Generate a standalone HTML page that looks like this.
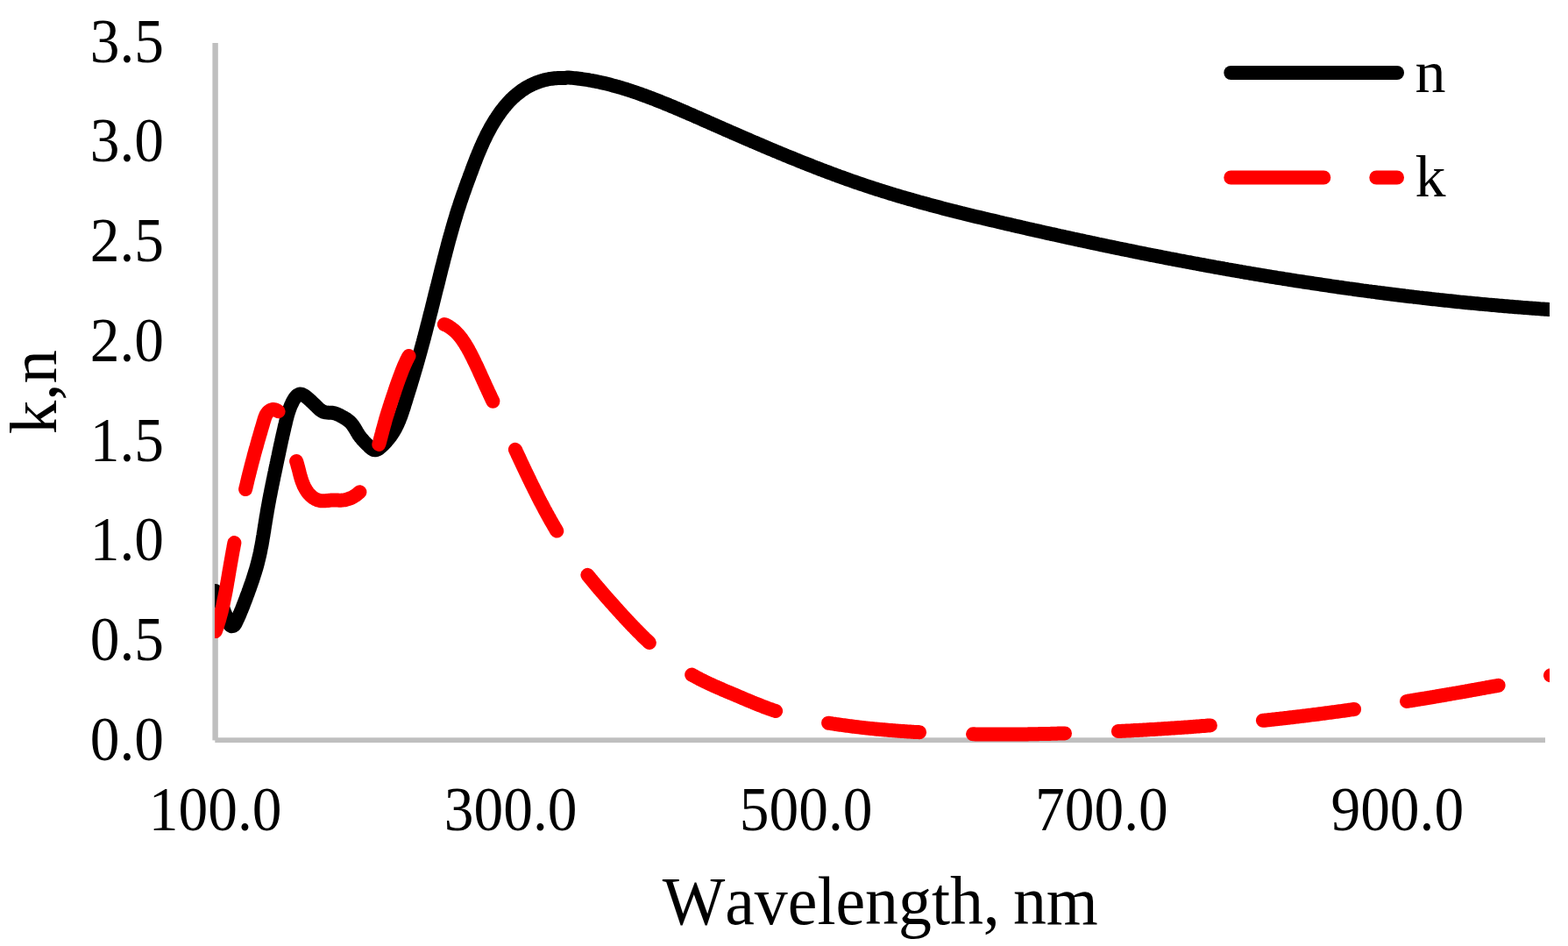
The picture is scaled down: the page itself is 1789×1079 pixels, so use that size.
<!DOCTYPE html>
<html><head><meta charset="utf-8"><title>k,n vs Wavelength</title>
<style>
html,body{margin:0;padding:0;background:#fff;width:1789px;height:1079px;overflow:hidden}
svg{position:absolute;left:0;top:0;display:block}
text{font-family:"Liberation Serif",serif;fill:#000;font-kerning:none}
</style></head><body>
<svg width="1789" height="1079" viewBox="0 0 1789 1079">
<defs><clipPath id="pa"><rect x="245" y="0" width="1523" height="1079"/></clipPath></defs>
<rect x="0" y="0" width="1789" height="1079" fill="#fff"/>
<!-- axes -->
<rect x="242.4" y="49" width="6.4" height="795.4" fill="#bfbfbf"/>
<rect x="245.3" y="841.3" width="1517.7" height="5.8" fill="#bfbfbf"/>
<!-- y tick labels -->
<g font-size="71" text-anchor="end">
<text transform="translate(187,70.5) scale(0.95,1)">3.5</text>
<text transform="translate(187,184.26) scale(0.95,1)">3.0</text>
<text transform="translate(187,298.02) scale(0.95,1)">2.5</text>
<text transform="translate(187,411.78) scale(0.95,1)">2.0</text>
<text transform="translate(187,525.54) scale(0.95,1)">1.5</text>
<text transform="translate(187,639.3) scale(0.95,1)">1.0</text>
<text transform="translate(187,753.06) scale(0.95,1)">0.5</text>
<text transform="translate(187,866.82) scale(0.95,1)">0.0</text>
</g>
<!-- x tick labels -->
<g font-size="71" text-anchor="middle">
<text transform="translate(245.6,946.7) scale(0.95,1)">100.0</text>
<text transform="translate(582.6,946.7) scale(0.95,1)">300.0</text>
<text transform="translate(919.6,946.7) scale(0.95,1)">500.0</text>
<text transform="translate(1256.9,946.7) scale(0.95,1)">700.0</text>
<text transform="translate(1594.3,946.7) scale(0.95,1)">900.0</text>
</g>
<!-- axis titles -->
<text font-size="78.5" text-anchor="middle" transform="translate(1004.2,1054.1) scale(0.966,1)">Wavelength, <tspan dx="-4">nm</tspan></text>
<text font-size="77" text-anchor="middle" transform="translate(63.6,447) rotate(-90)">k,n</text>
<!-- series -->
<g clip-path="url(#pa)" fill="none" stroke-width="16" stroke-linecap="round" stroke-linejoin="round">
<path d="M246.0,674.0 L246.6,675.5 L247.3,677.1 L247.9,678.6 L248.6,680.1 L249.2,681.7 L249.9,683.2 L250.5,684.8 L251.2,686.3 L251.8,687.8 L252.5,689.4 L253.1,690.9 L253.8,692.5 L254.4,694.0 L255.1,695.5 L255.7,697.1 L256.3,698.6 L256.9,700.2 L257.6,701.7 L258.1,703.2 L258.7,704.8 L259.3,706.3 L259.9,707.9 L260.6,709.5 L261.2,710.9 L261.9,712.3 L263.0,713.6 L264.5,714.2 L266.1,713.9 L267.3,713.0 L268.3,711.7 L269.1,710.2 L269.8,708.7 L270.5,707.1 L271.3,705.6 L271.9,704.0 L272.6,702.5 L273.3,701.0 L274.0,699.4 L274.6,697.9 L275.2,696.3 L275.9,694.8 L276.5,693.2 L277.1,691.7 L277.7,690.1 L278.3,688.6 L278.9,687.0 L279.5,685.5 L280.1,683.9 L280.7,682.4 L281.2,680.8 L281.8,679.3 L282.4,677.7 L283.0,676.2 L283.5,674.6 L284.1,673.0 L284.7,671.5 L285.2,669.9 L285.8,668.3 L286.3,666.7 L286.9,665.2 L287.4,663.6 L288.0,662.0 L288.5,660.4 L289.0,658.8 L289.5,657.3 L290.0,655.7 L290.5,654.1 L291.0,652.5 L291.5,650.9 L292.0,649.3 L292.5,647.7 L292.9,646.1 L293.4,644.5 L293.8,642.8 L294.2,641.2 L294.6,639.6 L295.0,638.0 L295.4,636.4 L295.8,634.7 L296.2,633.1 L296.5,631.5 L296.9,629.8 L297.2,628.2 L297.5,626.6 L297.8,624.9 L298.2,623.3 L298.5,621.7 L298.8,620.0 L299.1,618.4 L299.4,616.7 L299.6,615.1 L299.9,613.4 L300.2,611.8 L300.5,610.1 L300.7,608.5 L301.0,606.8 L301.3,605.2 L301.5,603.5 L301.8,601.9 L302.0,600.2 L302.3,598.6 L302.6,596.9 L302.8,595.3 L303.1,593.6 L303.4,592.0 L303.6,590.3 L303.9,588.7 L304.2,587.1 L304.5,585.4 L304.7,583.8 L305.0,582.1 L305.3,580.5 L305.6,578.9 L305.9,577.2 L306.2,575.6 L306.5,573.9 L306.8,572.3 L307.1,570.7 L307.4,569.0 L307.7,567.4 L308.0,565.8 L308.4,564.1 L308.7,562.5 L309.0,560.9 L309.3,559.3 L309.6,557.6 L310.0,556.0 L310.3,554.4 L310.6,552.7 L311.0,551.1 L311.3,549.5 L311.6,547.8 L312.0,546.2 L312.3,544.6 L312.6,542.9 L313.0,541.3 L313.3,539.7 L313.7,538.0 L314.0,536.4 L314.4,534.7 L314.7,533.1 L315.0,531.5 L315.4,529.8 L315.7,528.2 L316.1,526.5 L316.4,524.9 L316.8,523.2 L317.1,521.6 L317.5,520.0 L317.8,518.3 L318.2,516.7 L318.5,515.0 L318.9,513.4 L319.2,511.7 L319.6,510.1 L319.9,508.4 L320.3,506.8 L320.6,505.2 L321.0,503.5 L321.3,501.9 L321.7,500.3 L322.1,498.6 L322.4,497.0 L322.8,495.4 L323.2,493.8 L323.5,492.2 L323.9,490.6 L324.3,489.0 L324.6,487.4 L325.0,485.8 L325.4,484.2 L325.8,482.6 L326.1,481.1 L326.5,479.5 L326.9,477.9 L327.3,476.4 L327.7,474.8 L328.1,473.3 L328.6,471.7 L329.1,470.1 L329.6,468.5 L330.2,466.9 L330.8,465.3 L331.3,463.9 L331.9,462.4 L332.6,461.0 L333.3,459.5 L334.0,458.0 L334.8,456.5 L335.7,455.1 L336.5,453.8 L337.5,452.6 L338.6,451.4 L339.9,450.4 L341.4,449.7 L342.9,449.5 L344.6,449.9 L346.0,450.5 L347.5,451.4 L348.8,452.3 L350.1,453.3 L351.3,454.3 L352.4,455.4 L353.6,456.4 L354.8,457.5 L356.0,458.6 L357.2,459.8 L358.4,460.9 L359.5,462.0 L360.7,463.2 L361.9,464.4 L363.2,465.6 L364.5,466.8 L365.8,467.8 L367.2,468.7 L368.6,469.5 L370.2,470.0 L371.8,470.4 L373.4,470.6 L375.1,470.7 L376.8,470.7 L378.5,470.8 L380.1,471.0 L381.8,471.4 L383.4,471.9 L384.9,472.5 L386.4,473.1 L388.0,473.9 L389.4,474.7 L390.9,475.5 L392.4,476.4 L393.9,477.2 L395.3,478.1 L396.6,479.1 L397.9,480.1 L399.2,481.2 L400.4,482.4 L401.4,483.6 L402.5,484.9 L403.4,486.3 L404.3,487.7 L405.2,489.1 L406.1,490.6 L406.9,492.1 L407.8,493.5 L408.6,494.9 L409.5,496.3 L410.5,497.7 L411.5,499.0 L412.5,500.2 L413.6,501.5 L414.7,502.7 L415.8,503.9 L417.0,505.1 L418.2,506.3 L419.3,507.4 L420.4,508.4 L421.5,509.5 L422.7,510.6 L424.0,511.7 L425.4,512.6 L426.8,513.1 L428.4,513.3 L430.1,512.9 L431.5,512.2 L432.9,511.2 L434.1,510.2 L435.3,509.2 L436.4,508.1 L437.5,507.0 L438.6,505.9 L439.6,504.8 L440.8,503.5 L441.9,502.2 L443.0,500.9 L444.0,499.6 L445.0,498.3 L446.0,497.0 L446.9,495.7 L447.8,494.3 L448.7,493.0 L449.5,491.6 L450.3,490.2 L451.1,488.8 L451.8,487.3 L452.6,485.9 L453.3,484.4 L454.0,482.9 L454.6,481.4 L455.3,479.9 L455.9,478.3 L456.5,476.7 L457.1,475.2 L457.7,473.6 L458.2,472.0 L458.8,470.4 L459.3,468.8 L459.8,467.2 L460.4,465.6 L460.9,464.0 L461.4,462.3 L461.9,460.7 L462.4,459.1 L462.9,457.5 L463.4,455.9 L463.9,454.3 L464.4,452.6 L464.9,451.0 L465.4,449.4 L465.9,447.8 L466.4,446.2 L466.9,444.6 L467.4,443.0 L467.9,441.4 L468.4,439.8 L468.9,438.2 L469.3,436.6 L469.8,435.0 L470.3,433.4 L470.8,431.8 L471.3,430.2 L471.7,428.6 L472.2,427.0 L472.7,425.4 L473.1,423.9 L473.6,422.3 L474.1,420.7 L474.5,419.1 L475.0,417.5 L475.5,415.9 L475.9,414.3 L476.4,412.7 L476.8,411.1 L477.3,409.5 L477.7,407.9 L478.2,406.3 L478.6,404.7 L479.1,403.1 L479.5,401.5 L480.0,399.9 L480.4,398.3 L480.8,396.7 L481.3,395.1 L481.7,393.5 L482.1,391.9 L482.6,390.3 L483.0,388.7 L483.4,387.1 L483.9,385.5 L484.3,383.9 L484.7,382.3 L485.1,380.6 L485.6,379.0 L486.0,377.4 L486.4,375.8 L486.8,374.2 L487.2,372.6 L487.6,371.0 L488.1,369.4 L488.5,367.7 L488.9,366.1 L489.3,364.5 L489.7,362.9 L490.1,361.3 L490.5,359.6 L490.9,358.0 L491.4,356.4 L491.8,354.8 L492.2,353.2 L492.6,351.5 L493.0,349.9 L493.4,348.3 L493.8,346.7 L494.2,345.1 L494.6,343.4 L495.0,341.8 L495.4,340.2 L495.8,338.6 L496.2,336.9 L496.6,335.3 L497.0,333.7 L497.4,332.1 L497.8,330.5 L498.2,328.8 L498.7,327.2 L499.1,325.6 L499.5,324.0 L499.9,322.3 L500.3,320.7 L500.7,319.1 L501.1,317.5 L501.5,315.9 L501.9,314.2 L502.3,312.6 L502.7,311.0 L503.1,309.4 L503.5,307.7 L503.9,306.1 L504.3,304.5 L504.8,302.9 L505.2,301.3 L505.6,299.6 L506.0,298.0 L506.4,296.4 L506.8,294.8 L507.2,293.2 L507.7,291.6 L508.1,289.9 L508.5,288.3 L508.9,286.7 L509.3,285.1 L509.8,283.5 L510.2,281.9 L510.6,280.3 L511.0,278.6 L511.5,277.0 L511.9,275.4 L512.3,273.8 L512.8,272.2 L513.2,270.6 L513.7,269.0 L514.1,267.4 L514.6,265.8 L515.0,264.2 L515.5,262.6 L515.9,261.0 L516.4,259.4 L516.8,257.8 L517.3,256.2 L517.8,254.6 L518.2,253.0 L518.7,251.4 L519.2,249.8 L519.7,248.2 L520.2,246.6 L520.6,245.0 L521.1,243.4 L521.6,241.8 L522.1,240.2 L522.6,238.7 L523.1,237.1 L523.7,235.5 L524.2,233.9 L524.7,232.3 L525.2,230.7 L525.7,229.2 L526.3,227.6 L526.8,226.0 L527.4,224.4 L527.9,222.8 L528.4,221.3 L529.0,219.7 L529.6,218.1 L530.1,216.6 L530.7,215.0 L531.2,213.4 L531.8,211.9 L532.4,210.3 L532.9,208.7 L533.5,207.1 L534.1,205.6 L534.7,204.0 L535.3,202.4 L535.8,200.9 L536.4,199.3 L537.0,197.7 L537.6,196.2 L538.2,194.6 L538.7,193.0 L539.3,191.5 L539.9,189.9 L540.5,188.3 L541.1,186.8 L541.7,185.2 L542.3,183.7 L542.9,182.1 L543.5,180.5 L544.1,179.0 L544.8,177.4 L545.4,175.9 L546.0,174.3 L546.7,172.8 L547.3,171.3 L548.0,169.7 L548.6,168.2 L549.3,166.7 L550.0,165.1 L550.7,163.6 L551.3,162.1 L552.0,160.6 L552.8,159.1 L553.5,157.6 L554.2,156.1 L554.9,154.6 L555.7,153.1 L556.4,151.6 L557.2,150.2 L558.0,148.7 L558.8,147.2 L559.6,145.8 L560.4,144.3 L561.2,142.9 L562.1,141.5 L562.9,140.0 L563.8,138.6 L564.7,137.2 L565.5,135.8 L566.5,134.4 L567.4,133.0 L568.3,131.6 L569.3,130.3 L570.2,128.9 L571.2,127.5 L572.2,126.2 L573.2,124.9 L574.3,123.6 L575.3,122.2 L576.4,121.0 L577.5,119.7 L578.6,118.4 L579.7,117.2 L580.8,115.9 L582.0,114.7 L583.1,113.5 L584.3,112.4 L585.5,111.2 L586.8,110.1 L588.0,109.0 L589.3,107.9 L590.6,106.8 L591.9,105.8 L593.2,104.8 L594.5,103.8 L595.9,102.8 L597.3,101.9 L598.7,101.0 L600.1,100.1 L601.5,99.3 L603.0,98.5 L604.5,97.7 L605.9,97.0 L607.4,96.2 L609.0,95.6 L610.5,94.9 L612.0,94.3 L613.6,93.7 L615.1,93.1 L616.7,92.6 L618.3,92.1 L619.9,91.7 L621.5,91.2 L623.1,90.9 L624.8,90.5 L626.4,90.2 L628.0,89.9 L629.7,89.7 L631.4,89.5 L633.0,89.3 L634.7,89.2 L636.4,89.1 L638.1,89.0 L639.7,89.0 L641.4,89.0 L643.1,89.0 L644.8,89.0 L647.0,88.5 L649.0,88.6 L651.0,88.7 L653.0,88.9 L655.0,89.1 L657.0,89.3 L659.0,89.5 L661.0,89.8 L663.0,90.0 L665.0,90.3 L667.0,90.6 L669.0,90.9 L671.0,91.2 L673.0,91.6 L675.0,91.9 L677.0,92.3 L679.0,92.7 L681.0,93.1 L683.0,93.5 L685.0,93.9 L687.0,94.4 L689.0,94.8 L691.0,95.3 L693.0,95.8 L695.0,96.3 L697.0,96.8 L699.0,97.4 L701.0,97.9 L703.0,98.5 L705.0,99.0 L707.0,99.6 L709.0,100.2 L711.0,100.8 L713.0,101.4 L715.0,102.0 L717.0,102.7 L719.0,103.3 L721.0,104.0 L723.0,104.7 L725.0,105.3 L727.0,106.0 L729.0,106.7 L731.0,107.4 L733.0,108.2 L735.0,108.9 L737.0,109.6 L739.0,110.4 L741.0,111.1 L743.0,111.9 L745.0,112.6 L747.0,113.4 L749.0,114.2 L751.0,115.0 L753.0,115.8 L755.0,116.6 L757.0,117.4 L759.0,118.2 L761.0,119.0 L763.0,119.8 L765.0,120.7 L767.0,121.5 L769.0,122.3 L771.0,123.2 L773.0,124.0 L775.0,124.9 L777.0,125.7 L779.0,126.6 L781.0,127.5 L783.0,128.3 L785.0,129.2 L787.0,130.1 L789.0,130.9 L791.0,131.8 L793.0,132.7 L795.0,133.6 L797.0,134.4 L799.0,135.3 L801.0,136.2 L803.0,137.1 L805.0,138.0 L807.0,138.8 L809.0,139.7 L811.0,140.6 L813.0,141.5 L815.0,142.4 L817.0,143.3 L819.0,144.1 L821.0,145.0 L823.0,145.9 L825.0,146.8 L827.0,147.7 L829.0,148.5 L831.0,149.4 L833.0,150.3 L835.0,151.2 L837.0,152.0 L839.0,152.9 L841.0,153.8 L843.0,154.6 L845.0,155.5 L847.0,156.4 L849.0,157.2 L851.0,158.1 L853.0,159.0 L855.0,159.8 L857.0,160.7 L859.0,161.6 L861.0,162.4 L863.0,163.3 L865.0,164.1 L867.0,165.0 L869.0,165.8 L871.0,166.7 L873.0,167.5 L875.0,168.4 L877.0,169.2 L879.0,170.1 L881.0,170.9 L883.0,171.7 L885.0,172.6 L887.0,173.4 L889.0,174.2 L891.0,175.1 L893.0,175.9 L895.0,176.7 L897.0,177.6 L899.0,178.4 L901.0,179.2 L903.0,180.0 L905.0,180.8 L907.0,181.6 L909.0,182.4 L911.0,183.2 L913.0,184.1 L915.0,184.9 L917.0,185.7 L919.0,186.4 L921.0,187.2 L923.0,188.0 L925.0,188.8 L927.0,189.6 L929.0,190.4 L931.0,191.2 L933.0,191.9 L935.0,192.7 L937.0,193.5 L939.0,194.2 L941.0,195.0 L943.0,195.7 L945.0,196.5 L947.0,197.3 L949.0,198.0 L951.0,198.7 L953.0,199.5 L955.0,200.2 L957.0,201.0 L959.0,201.7 L961.0,202.4 L963.0,203.1 L965.0,203.9 L967.0,204.6 L969.0,205.3 L971.0,206.0 L973.0,206.7 L975.0,207.4 L977.0,208.1 L979.0,208.8 L981.0,209.5 L983.0,210.1 L985.0,210.8 L987.0,211.5 L989.0,212.2 L991.0,212.8 L993.0,213.5 L995.0,214.1 L997.0,214.8 L999.0,215.4 L1001.0,216.1 L1003.0,216.7 L1005.0,217.3 L1007.0,218.0 L1009.0,218.6 L1011.0,219.2 L1013.0,219.8 L1015.0,220.5 L1017.0,221.1 L1019.0,221.7 L1021.0,222.3 L1023.0,222.9 L1025.0,223.5 L1027.0,224.1 L1029.0,224.7 L1031.0,225.2 L1033.0,225.8 L1035.0,226.4 L1037.0,227.0 L1039.0,227.6 L1041.0,228.1 L1043.0,228.7 L1045.0,229.3 L1047.0,229.8 L1049.0,230.4 L1051.0,230.9 L1053.0,231.5 L1055.0,232.0 L1057.0,232.6 L1059.0,233.1 L1061.0,233.7 L1063.0,234.2 L1065.0,234.7 L1067.0,235.3 L1069.0,235.8 L1071.0,236.3 L1073.0,236.8 L1075.0,237.4 L1077.0,237.9 L1079.0,238.4 L1081.0,238.9 L1083.0,239.4 L1085.0,239.9 L1087.0,240.4 L1089.0,240.9 L1091.0,241.5 L1093.0,242.0 L1095.0,242.5 L1097.0,243.0 L1099.0,243.4 L1101.0,243.9 L1103.0,244.4 L1105.0,244.9 L1107.0,245.4 L1109.0,245.9 L1111.0,246.4 L1113.0,246.9 L1115.0,247.4 L1117.0,247.8 L1119.0,248.3 L1121.0,248.8 L1123.0,249.3 L1125.0,249.7 L1127.0,250.2 L1129.0,250.7 L1131.0,251.2 L1133.0,251.6 L1135.0,252.1 L1137.0,252.6 L1139.0,253.1 L1141.0,253.5 L1143.0,254.0 L1145.0,254.5 L1147.0,254.9 L1149.0,255.4 L1151.0,255.8 L1153.0,256.3 L1155.0,256.8 L1157.0,257.2 L1159.0,257.7 L1161.0,258.2 L1163.0,258.6 L1165.0,259.1 L1167.0,259.5 L1169.0,260.0 L1171.0,260.4 L1173.0,260.9 L1175.0,261.4 L1177.0,261.8 L1179.0,262.3 L1181.0,262.7 L1183.0,263.2 L1185.0,263.6 L1187.0,264.1 L1189.0,264.5 L1191.0,265.0 L1193.0,265.4 L1195.0,265.9 L1197.0,266.3 L1199.0,266.8 L1201.0,267.2 L1203.0,267.6 L1205.0,268.1 L1207.0,268.5 L1209.0,269.0 L1211.0,269.4 L1213.0,269.8 L1215.0,270.3 L1217.0,270.7 L1219.0,271.2 L1221.0,271.6 L1223.0,272.0 L1225.0,272.5 L1227.0,272.9 L1229.0,273.3 L1231.0,273.8 L1233.0,274.2 L1235.0,274.6 L1237.0,275.1 L1239.0,275.5 L1241.0,275.9 L1243.0,276.3 L1245.0,276.8 L1247.0,277.2 L1249.0,277.6 L1251.0,278.0 L1253.0,278.5 L1255.0,278.9 L1257.0,279.3 L1259.0,279.7 L1261.0,280.2 L1263.0,280.6 L1265.0,281.0 L1267.0,281.4 L1269.0,281.8 L1271.0,282.2 L1273.0,282.7 L1275.0,283.1 L1277.0,283.5 L1279.0,283.9 L1281.0,284.3 L1283.0,284.7 L1285.0,285.1 L1287.0,285.5 L1289.0,285.9 L1291.0,286.3 L1293.0,286.7 L1295.0,287.2 L1297.0,287.6 L1299.0,288.0 L1301.0,288.4 L1303.0,288.8 L1305.0,289.2 L1307.0,289.6 L1309.0,290.0 L1311.0,290.4 L1313.0,290.8 L1315.0,291.2 L1317.0,291.5 L1319.0,291.9 L1321.0,292.3 L1323.0,292.7 L1325.0,293.1 L1327.0,293.5 L1329.0,293.9 L1331.0,294.3 L1333.0,294.7 L1335.0,295.1 L1337.0,295.4 L1339.0,295.8 L1341.0,296.2 L1343.0,296.6 L1345.0,297.0 L1347.0,297.4 L1349.0,297.7 L1351.0,298.1 L1353.0,298.5 L1355.0,298.9 L1357.0,299.2 L1359.0,299.6 L1361.0,300.0 L1363.0,300.4 L1365.0,300.7 L1367.0,301.1 L1369.0,301.5 L1371.0,301.8 L1373.0,302.2 L1375.0,302.6 L1377.0,303.0 L1379.0,303.3 L1381.0,303.7 L1383.0,304.0 L1385.0,304.4 L1387.0,304.8 L1389.0,305.1 L1391.0,305.5 L1393.0,305.8 L1395.0,306.2 L1397.0,306.6 L1399.0,306.9 L1401.0,307.3 L1403.0,307.6 L1405.0,308.0 L1407.0,308.3 L1409.0,308.7 L1411.0,309.0 L1413.0,309.4 L1415.0,309.7 L1417.0,310.1 L1419.0,310.4 L1421.0,310.8 L1423.0,311.1 L1425.0,311.4 L1427.0,311.8 L1429.0,312.1 L1431.0,312.5 L1433.0,312.8 L1435.0,313.1 L1437.0,313.5 L1439.0,313.8 L1441.0,314.1 L1443.0,314.5 L1445.0,314.8 L1447.0,315.1 L1449.0,315.5 L1451.0,315.8 L1453.0,316.1 L1455.0,316.4 L1457.0,316.8 L1459.0,317.1 L1461.0,317.4 L1463.0,317.7 L1465.0,318.1 L1467.0,318.4 L1469.0,318.7 L1471.0,319.0 L1473.0,319.3 L1475.0,319.6 L1477.0,320.0 L1479.0,320.3 L1481.0,320.6 L1483.0,320.9 L1485.0,321.2 L1487.0,321.5 L1489.0,321.8 L1491.0,322.1 L1493.0,322.4 L1495.0,322.7 L1497.0,323.0 L1499.0,323.3 L1501.0,323.6 L1503.0,323.9 L1505.0,324.2 L1507.0,324.5 L1509.0,324.8 L1511.0,325.1 L1513.0,325.4 L1515.0,325.7 L1517.0,326.0 L1519.0,326.3 L1521.0,326.6 L1523.0,326.9 L1525.0,327.2 L1527.0,327.5 L1529.0,327.7 L1531.0,328.0 L1533.0,328.3 L1535.0,328.6 L1537.0,328.9 L1539.0,329.2 L1541.0,329.4 L1543.0,329.7 L1545.0,330.0 L1547.0,330.3 L1549.0,330.5 L1551.0,330.8 L1553.0,331.1 L1555.0,331.4 L1557.0,331.6 L1559.0,331.9 L1561.0,332.2 L1563.0,332.4 L1565.0,332.7 L1567.0,332.9 L1569.0,333.2 L1571.0,333.5 L1573.0,333.7 L1575.0,334.0 L1577.0,334.2 L1579.0,334.5 L1581.0,334.8 L1583.0,335.0 L1585.0,335.3 L1587.0,335.5 L1589.0,335.8 L1591.0,336.0 L1593.0,336.3 L1595.0,336.5 L1597.0,336.8 L1599.0,337.0 L1601.0,337.2 L1603.0,337.5 L1605.0,337.7 L1607.0,338.0 L1609.0,338.2 L1611.0,338.4 L1613.0,338.7 L1615.0,338.9 L1617.0,339.1 L1619.0,339.4 L1621.0,339.6 L1623.0,339.8 L1625.0,340.1 L1627.0,340.3 L1629.0,340.5 L1631.0,340.7 L1633.0,341.0 L1635.0,341.2 L1637.0,341.4 L1639.0,341.6 L1641.0,341.8 L1643.0,342.1 L1645.0,342.3 L1647.0,342.5 L1649.0,342.7 L1651.0,342.9 L1653.0,343.1 L1655.0,343.3 L1657.0,343.5 L1659.0,343.7 L1661.0,344.0 L1663.0,344.2 L1665.0,344.4 L1667.0,344.6 L1669.0,344.8 L1671.0,345.0 L1673.0,345.2 L1675.0,345.4 L1677.0,345.5 L1679.0,345.7 L1681.0,345.9 L1683.0,346.1 L1685.0,346.3 L1687.0,346.5 L1689.0,346.7 L1691.0,346.9 L1693.0,347.1 L1695.0,347.2 L1697.0,347.4 L1699.0,347.6 L1701.0,347.8 L1703.0,348.0 L1705.0,348.1 L1707.0,348.3 L1709.0,348.5 L1711.0,348.7 L1713.0,348.8 L1715.0,349.0 L1717.0,349.2 L1719.0,349.3 L1721.0,349.5 L1723.0,349.7 L1725.0,349.8 L1727.0,350.0 L1729.0,350.2 L1731.0,350.3 L1733.0,350.5 L1735.0,350.6 L1737.0,350.8 L1739.0,350.9 L1741.0,351.1 L1743.0,351.2 L1745.0,351.4 L1747.0,351.5 L1749.0,351.7 L1751.0,351.8 L1753.0,352.0 L1755.0,352.1 L1757.0,352.3 L1759.0,352.4 L1761.0,352.5 L1763.0,352.7 L1765.0,352.8 L1767.0,353.0 L1769.0,353.1 L1771.0,353.2 L1773.0,353.3 L1775.0,353.5" stroke="#000"/>
<path d="M245.9,720.0 L246.4,718.5 L246.9,717.1 L247.4,715.7 L247.9,714.2 L248.3,712.8 L248.8,711.3 L249.2,709.8 L249.7,708.4 L250.1,706.9 L250.5,705.5 L250.9,704.0 L251.3,702.5 L251.7,701.1 L252.1,699.6 L252.5,698.1 L252.9,696.7 L253.2,695.2 L253.6,693.7 L253.9,692.2 L254.3,690.7 L254.6,689.3 L254.9,687.8 L255.2,686.3 L255.5,684.8 L255.8,683.3 L256.1,681.9 L256.4,680.4 L256.7,678.9 L257.0,677.4 L257.3,675.9 L257.6,674.4 L257.9,672.9 L258.1,671.4 L258.4,669.9 L258.7,668.4 L258.9,666.9 L259.2,665.5 L259.4,664.0 L259.7,662.5 L260.0,661.0 L260.2,659.5 L260.5,658.0 L260.7,656.5 L261.0,655.0 L261.2,653.5 L261.5,652.0 L261.7,650.5 L262.0,649.0 L262.3,647.5 L262.5,646.0 L262.8,644.5 L263.0,643.0 L263.3,641.5 L263.6,640.0 L263.8,638.5 L264.1,637.0 L264.4,635.5 L264.6,634.0 L264.9,632.5 L265.2,631.0 L265.4,629.5 L265.7,628.0 L266.0,626.5 L266.3,625.1 L266.5,623.6 L266.8,622.1 L267.1,620.6 L267.4,619.1 M280.1,558.1 L280.4,556.6 L280.8,555.2 L281.1,553.7 L281.5,552.2 L281.8,550.7 L282.2,549.3 L282.5,547.8 L282.9,546.3 L283.2,544.8 L283.6,543.4 L284.0,541.9 L284.3,540.4 L284.7,539.0 L285.1,537.5 L285.4,536.0 L285.8,534.6 L286.2,533.1 L286.6,531.6 L286.9,530.2 L287.3,528.7 L287.7,527.2 L288.1,525.8 L288.5,524.3 L288.9,522.9 L289.3,521.4 L289.6,519.9 L290.0,518.5 L290.4,517.0 L290.8,515.6 L291.2,514.1 L291.6,512.6 L292.0,511.2 L292.5,509.7 L292.9,508.3 L293.3,506.8 L293.7,505.3 L294.1,503.9 L294.5,502.4 L294.9,500.9 L295.4,499.5 L295.8,498.0 L296.2,496.5 L296.6,495.1 L297.1,493.6 L297.5,492.1 L297.9,490.6 L298.3,489.2 L298.8,487.7 L299.2,486.2 L299.7,484.7 L300.1,483.2 L300.5,481.7 L301.0,480.2 L301.4,478.7 L301.9,477.3 L302.4,475.8 L303.0,474.4 L303.6,473.0 L304.5,471.6 L305.6,470.2 L306.7,469.2 L307.9,468.3 L309.2,467.6 L310.8,467.1 L312.5,467.0 L314.1,467.3 L315.7,468.0 L317.1,468.9 L317.6,469.3 M338.1,526.0 L338.6,527.5 L339.0,528.9 L339.4,530.4 L339.8,531.9 L340.2,533.3 L340.6,534.8 L341.0,536.3 L341.4,537.8 L341.7,539.3 L342.1,540.8 L342.5,542.3 L342.9,543.8 L343.4,545.2 L343.8,546.7 L344.3,548.1 L344.8,549.6 L345.4,551.0 L345.9,552.4 L346.5,553.8 L347.2,555.2 L347.9,556.5 L348.6,557.8 L349.4,559.1 L350.2,560.3 L351.1,561.6 L352.1,562.8 L353.1,563.9 L354.2,565.0 L355.4,566.1 L356.6,567.1 L357.8,568.0 L359.1,568.8 L360.5,569.5 L361.9,570.1 L363.3,570.6 L364.9,571.0 L366.4,571.2 L367.9,571.3 L369.5,571.3 L371.0,571.2 L372.6,571.1 L374.1,571.0 L375.7,570.8 L377.2,570.6 L378.8,570.5 L380.3,570.4 L382.0,570.4 L383.7,570.5 L385.4,570.6 L387.0,570.7 L388.7,570.7 L390.4,570.6 L392.1,570.4 L393.6,570.2 L395.1,569.8 L396.5,569.4 L398.0,568.9 L399.5,568.4 L400.9,567.8 L402.3,567.1 L403.7,566.3 L405.0,565.5 L406.3,564.6 L407.5,563.7 L408.7,562.7 L409.9,561.7 L410.4,561.3 M432.3,506.9 L432.7,505.5 L433.2,503.8 L433.6,502.2 L434.0,500.5 L434.5,498.9 L434.9,497.2 L435.3,495.6 L435.8,493.9 L436.2,492.3 L436.6,490.6 L437.1,488.9 L437.5,487.5 L437.9,486.0 L438.3,484.6 L438.7,483.1 L439.1,481.7 L439.5,480.2 L439.9,478.7 L440.3,477.3 L440.8,475.8 L441.2,474.3 L441.7,472.9 L442.1,471.4 L442.6,469.9 L443.0,468.5 L443.5,467.0 L444.0,465.5 L444.4,464.0 L444.9,462.6 L445.4,461.1 L445.9,459.6 L446.3,458.2 L446.8,456.7 L447.3,455.2 L447.8,453.8 L448.3,452.3 L448.8,450.8 L449.3,449.4 L449.8,447.9 L450.3,446.5 L450.7,445.0 L451.2,443.6 L451.7,442.1 L452.2,440.7 L452.7,439.3 L453.2,437.8 L453.7,436.4 L454.2,435.0 L454.7,433.6 L455.3,432.0 L455.9,430.4 L456.5,428.8 L457.1,427.2 L457.7,425.6 L458.3,424.0 L458.9,422.4 L459.5,420.9 L460.2,419.3 L460.8,417.8 L461.5,416.2 L462.2,414.7 L462.9,413.1 L463.6,411.6 L464.4,410.1 L465.1,408.6 L465.9,407.1 L466.5,406.0 M506.9,370.0 L508.5,370.6 L510.0,371.3 L511.5,372.1 L512.9,373.0 L514.3,373.9 L515.6,374.9 L517.0,375.9 L518.2,377.0 L519.5,378.2 L520.7,379.4 L521.9,380.6 L522.9,381.7 L523.9,382.9 L524.8,384.0 L525.8,385.2 L526.7,386.4 L527.6,387.7 L528.5,389.0 L529.3,390.2 L530.2,391.5 L531.0,392.9 L531.8,394.2 L532.6,395.5 L533.4,396.9 L534.2,398.2 L534.9,399.6 L535.7,401.0 L536.4,402.3 L537.1,403.7 L537.8,405.1 L538.5,406.5 L539.2,407.8 L539.9,409.2 L540.5,410.6 L541.2,411.9 L541.9,413.3 L542.5,414.7 L543.2,416.0 L543.8,417.4 L544.4,418.7 L545.2,420.3 L545.9,421.9 L546.6,423.4 L547.3,425.0 L548.0,426.5 L548.7,428.1 L549.4,429.6 L550.1,431.2 L550.8,432.7 L551.4,434.1 L552.1,435.5 L552.7,436.9 L553.3,438.2 L553.9,439.6 L554.6,441.0 L555.2,442.4 L555.9,443.7 L556.5,445.1 L557.1,446.5 L557.8,447.9 L558.4,449.3 L559.1,450.7 L559.7,452.1 L560.4,453.5 L561.0,454.9 L561.7,456.3 L562.4,457.6 L562.4,457.8 M587.9,512.8 L588.6,514.1 L589.2,515.5 L589.9,516.9 L590.5,518.3 L591.1,519.6 L591.8,521.0 L592.4,522.4 L593.1,523.8 L593.7,525.1 L594.3,526.5 L595.0,527.9 L595.6,529.3 L596.3,530.6 L596.9,532.0 L597.6,533.4 L598.2,534.8 L598.9,536.1 L599.5,537.5 L600.2,538.9 L600.9,540.3 L601.5,541.6 L602.2,543.0 L602.8,544.4 L603.5,545.8 L604.2,547.1 L604.8,548.5 L605.5,549.9 L606.2,551.3 L606.8,552.6 L607.5,554.0 L608.2,555.4 L608.9,556.7 L609.5,558.1 L610.2,559.5 L610.9,560.8 L611.6,562.2 L612.3,563.6 L613.0,564.9 L613.6,566.3 L614.3,567.6 L615.0,569.0 L615.7,570.4 L616.4,571.7 L617.1,573.1 L617.9,574.4 L618.6,575.8 L619.3,577.1 L620.0,578.5 L620.7,579.8 L621.4,581.2 L622.1,582.5 L622.9,583.8 L623.6,585.2 L624.3,586.5 L625.1,587.8 L625.8,589.2 L626.5,590.5 L627.3,591.8 L628.0,593.2 L628.8,594.5 L629.5,595.8 L630.3,597.1 L631.1,598.5 L631.8,599.8 L632.6,601.1 L633.4,602.4 L634.1,603.7 L634.9,605.0 L635.3,605.6 M670.4,655.8 L671.3,657.0 L672.3,658.2 L673.2,659.3 L674.2,660.5 L675.2,661.7 L676.1,662.8 L677.1,664.0 L678.1,665.2 L679.0,666.3 L680.0,667.5 L681.0,668.6 L682.0,669.8 L683.0,670.9 L683.9,672.1 L684.9,673.2 L685.9,674.4 L686.9,675.5 L687.9,676.7 L688.9,677.8 L689.9,679.0 L690.9,680.1 L691.9,681.3 L692.9,682.4 L693.9,683.5 L694.9,684.7 L695.9,685.8 L697.0,687.0 L698.0,688.1 L699.0,689.2 L700.0,690.4 L701.0,691.5 L702.0,692.6 L703.1,693.8 L704.1,694.9 L705.1,696.1 L706.1,697.2 L707.2,698.3 L708.2,699.5 L709.2,700.6 L710.2,701.7 L711.3,702.8 L712.3,704.0 L713.3,705.1 L714.4,706.2 L715.4,707.3 L716.5,708.4 L717.5,709.6 L718.6,710.7 L719.6,711.8 L720.7,712.9 L721.7,714.0 L722.8,715.1 L723.9,716.2 L724.9,717.3 L726.0,718.4 L727.1,719.5 L728.1,720.6 L729.2,721.7 L730.3,722.7 L731.4,723.8 L732.4,724.9 L733.5,726.0 L734.6,727.0 L735.7,728.1 L736.8,729.1 L737.9,730.2 L739.0,731.2 L740.1,732.3 L740.9,733.0 M789.2,769.6 L790.5,770.3 L791.9,771.0 L793.2,771.8 L794.5,772.5 L795.8,773.2 L797.2,773.9 L798.5,774.6 L799.9,775.3 L801.2,776.0 L802.6,776.7 L804.0,777.3 L805.3,778.0 L806.7,778.6 L808.1,779.3 L809.4,779.9 L810.8,780.6 L812.2,781.2 L813.6,781.8 L815.0,782.5 L816.4,783.1 L817.8,783.7 L819.2,784.3 L820.6,784.9 L822.0,785.5 L823.4,786.2 L824.8,786.8 L826.2,787.4 L827.6,788.0 L829.0,788.6 L830.4,789.2 L831.8,789.7 L833.2,790.3 L834.6,790.9 L836.0,791.5 L837.5,792.1 L838.9,792.7 L840.3,793.3 L841.7,793.9 L843.1,794.5 L844.5,795.1 L845.9,795.7 L847.3,796.3 L848.7,796.9 L850.1,797.5 L851.5,798.1 L852.9,798.7 L854.3,799.3 L855.7,799.8 L857.1,800.4 L858.5,801.0 L859.9,801.6 L861.3,802.2 L862.7,802.7 L864.2,803.3 L865.6,803.9 L867.0,804.4 L868.4,805.0 L869.8,805.5 L871.2,806.1 L872.6,806.6 L874.1,807.1 L875.5,807.7 L876.9,808.2 L878.3,808.7 L879.8,809.2 L881.2,809.7 L882.6,810.2 L884.1,810.7 L885.1,811.0 M945.1,824.7 L946.6,824.9 L948.1,825.1 L949.6,825.4 L951.1,825.6 L952.6,825.8 L954.1,826.1 L955.6,826.3 L957.1,826.5 L958.6,826.7 L960.1,826.9 L961.6,827.1 L963.1,827.3 L964.6,827.5 L966.1,827.7 L967.6,827.9 L969.1,828.1 L970.6,828.3 L972.2,828.5 L973.7,828.7 L975.2,828.9 L976.7,829.1 L978.2,829.2 L979.7,829.4 L981.2,829.6 L982.7,829.8 L984.2,829.9 L985.7,830.1 L987.2,830.3 L988.7,830.4 L990.3,830.6 L991.8,830.8 L993.3,830.9 L994.8,831.1 L996.3,831.2 L997.8,831.4 L999.3,831.5 L1000.8,831.7 L1002.3,831.8 L1003.9,831.9 L1005.4,832.1 L1006.9,832.2 L1008.4,832.3 L1009.9,832.5 L1011.4,832.6 L1012.9,832.7 L1014.4,832.9 L1016.0,833.0 L1017.5,833.1 L1019.0,833.2 L1020.5,833.3 L1022.0,833.4 L1023.5,833.6 L1025.0,833.7 L1026.6,833.8 L1028.1,833.9 L1029.6,834.0 L1031.1,834.1 L1032.6,834.2 L1034.1,834.3 L1035.6,834.4 L1037.2,834.5 L1038.7,834.6 L1040.2,834.7 L1041.7,834.8 L1043.2,834.9 L1044.7,834.9 L1046.3,835.0 L1047.8,835.1 L1049.1,835.2 M1110.0,837.3 L1111.5,837.3 L1113.0,837.4 L1114.5,837.4 L1116.0,837.4 L1117.6,837.4 L1119.1,837.4 L1120.6,837.5 L1122.1,837.5 L1123.6,837.5 L1125.1,837.5 L1126.7,837.5 L1128.2,837.5 L1129.7,837.5 L1131.2,837.5 L1132.7,837.6 L1134.3,837.6 L1135.8,837.6 L1137.3,837.6 L1138.8,837.6 L1140.3,837.6 L1141.9,837.6 L1143.4,837.6 L1144.9,837.6 L1146.4,837.6 L1147.9,837.6 L1149.4,837.6 L1151.0,837.6 L1152.5,837.6 L1154.0,837.5 L1155.5,837.5 L1157.0,837.5 L1158.6,837.5 L1160.1,837.5 L1161.6,837.5 L1163.1,837.5 L1164.6,837.5 L1166.2,837.4 L1167.7,837.4 L1169.2,837.4 L1170.7,837.4 L1172.2,837.4 L1173.7,837.3 L1175.3,837.3 L1176.8,837.3 L1178.3,837.3 L1179.8,837.3 L1181.3,837.2 L1182.9,837.2 L1184.4,837.2 L1185.9,837.1 L1187.4,837.1 L1188.9,837.1 L1190.5,837.0 L1192.0,837.0 L1193.5,837.0 L1195.0,836.9 L1196.5,836.9 L1198.0,836.9 L1199.6,836.8 L1201.1,836.8 L1202.6,836.8 L1204.1,836.7 L1205.6,836.7 L1207.2,836.6 L1208.7,836.6 L1210.2,836.6 L1211.7,836.5 L1213.2,836.5 L1214.8,836.4 L1215.0,836.4 M1275.9,834.1 L1277.4,834.0 L1278.9,833.9 L1280.5,833.8 L1282.0,833.8 L1283.5,833.7 L1285.0,833.6 L1286.5,833.5 L1288.0,833.5 L1289.6,833.4 L1291.1,833.3 L1292.6,833.2 L1294.1,833.1 L1295.6,833.1 L1297.1,833.0 L1298.7,832.9 L1300.2,832.8 L1301.7,832.7 L1303.2,832.7 L1304.7,832.6 L1306.2,832.5 L1307.8,832.4 L1309.3,832.3 L1310.8,832.2 L1312.3,832.1 L1313.8,832.0 L1315.3,832.0 L1316.9,831.9 L1318.4,831.8 L1319.9,831.7 L1321.4,831.6 L1322.9,831.5 L1324.4,831.4 L1325.9,831.3 L1327.5,831.2 L1329.0,831.1 L1330.5,831.0 L1332.0,830.9 L1333.5,830.8 L1335.0,830.7 L1336.6,830.6 L1338.1,830.5 L1339.6,830.4 L1341.1,830.3 L1342.6,830.2 L1344.1,830.1 L1345.6,830.0 L1347.2,829.9 L1348.7,829.8 L1350.2,829.7 L1351.7,829.6 L1353.2,829.5 L1354.7,829.4 L1356.2,829.3 L1357.8,829.2 L1359.3,829.0 L1360.8,828.9 L1362.3,828.8 L1363.8,828.7 L1365.3,828.6 L1366.8,828.5 L1368.4,828.4 L1369.9,828.2 L1371.4,828.1 L1372.9,828.0 L1374.4,827.9 L1375.9,827.8 L1377.4,827.6 L1379.0,827.5 L1380.5,827.4 L1380.9,827.4 M1440.9,821.8 L1442.5,821.7 L1444.0,821.5 L1445.5,821.4 L1447.0,821.2 L1448.5,821.0 L1450.0,820.9 L1451.5,820.7 L1453.0,820.5 L1454.5,820.4 L1456.0,820.2 L1457.6,820.0 L1459.1,819.9 L1460.6,819.7 L1462.1,819.5 L1463.6,819.4 L1465.1,819.2 L1466.6,819.0 L1468.1,818.9 L1469.6,818.7 L1471.1,818.5 L1472.6,818.3 L1474.1,818.2 L1475.7,818.0 L1477.2,817.8 L1478.7,817.6 L1480.2,817.5 L1481.7,817.3 L1483.2,817.1 L1484.7,816.9 L1486.2,816.7 L1487.7,816.5 L1489.2,816.4 L1490.7,816.2 L1492.2,816.0 L1493.7,815.8 L1495.3,815.6 L1496.8,815.4 L1498.3,815.2 L1499.8,815.0 L1501.3,814.9 L1502.8,814.7 L1504.3,814.5 L1505.8,814.3 L1507.3,814.1 L1508.8,813.9 L1510.3,813.7 L1511.8,813.5 L1513.3,813.3 L1514.8,813.1 L1516.3,812.9 L1517.8,812.7 L1519.4,812.5 L1520.9,812.3 L1522.4,812.1 L1523.9,811.9 L1525.4,811.7 L1526.9,811.5 L1528.4,811.3 L1529.9,811.1 L1531.4,810.9 L1532.9,810.7 L1534.4,810.5 L1535.9,810.3 L1537.4,810.1 L1538.9,809.8 L1540.4,809.6 L1541.9,809.4 L1543.4,809.2 L1544.9,809.0 L1545.1,809.0 M1605.0,799.9 L1606.5,799.7 L1608.0,799.4 L1609.5,799.2 L1611.0,799.0 L1612.5,798.7 L1614.0,798.5 L1615.5,798.2 L1617.0,798.0 L1618.5,797.7 L1620.0,797.5 L1621.5,797.2 L1623.0,797.0 L1624.5,796.8 L1626.0,796.5 L1627.5,796.3 L1629.0,796.0 L1630.5,795.8 L1632.0,795.5 L1633.5,795.3 L1635.0,795.0 L1636.5,794.8 L1638.0,794.5 L1639.5,794.2 L1641.0,794.0 L1642.5,793.7 L1644.0,793.5 L1645.5,793.2 L1647.0,793.0 L1648.5,792.7 L1650.0,792.5 L1651.5,792.2 L1653.0,791.9 L1654.5,791.7 L1656.0,791.4 L1657.4,791.2 L1658.9,790.9 L1660.4,790.6 L1661.9,790.4 L1663.4,790.1 L1664.9,789.9 L1666.4,789.6 L1667.9,789.3 L1669.4,789.1 L1670.9,788.8 L1672.4,788.5 L1673.9,788.3 L1675.4,788.0 L1676.9,787.7 L1678.4,787.5 L1679.9,787.2 L1681.4,786.9 L1682.9,786.7 L1684.4,786.4 L1685.9,786.1 L1687.4,785.8 L1688.9,785.6 L1690.3,785.3 L1691.8,785.0 L1693.3,784.8 L1694.8,784.5 L1696.3,784.2 L1697.8,783.9 L1699.3,783.7 L1700.8,783.4 L1702.3,783.1 L1703.8,782.8 L1705.3,782.6 L1706.8,782.3 L1708.3,782.0 L1709.6,781.8 M1769.0,770.4 L1770.5,770.1 L1772.0,769.8 L1773.4,769.5 L1774.9,769.2 L1776.4,768.9 L1777.9,768.6 L1779.4,768.3 L1780.9,768.0 L1782.4,767.7 L1783.9,767.4 L1785.3,767.1 L1786.8,766.8 L1788.3,766.5 L1789.8,766.2 L1790.0,766.2" stroke="#ff0000"/>
</g>
<!-- legend -->
<g fill="none" stroke-width="16" stroke-linecap="round">
<path d="M1404.3,83 L1594,83" stroke="#000"/>
<path d="M1404.3,202.5 L1594,202.5" stroke="#ff0000" stroke-dasharray="106 60"/>
</g>
<text font-size="68" transform="translate(1614.5,105) scale(1.03,1)">n</text>
<text font-size="68" transform="translate(1614.5,224.4) scale(1.03,1)">k</text>
</svg>
</body></html>
